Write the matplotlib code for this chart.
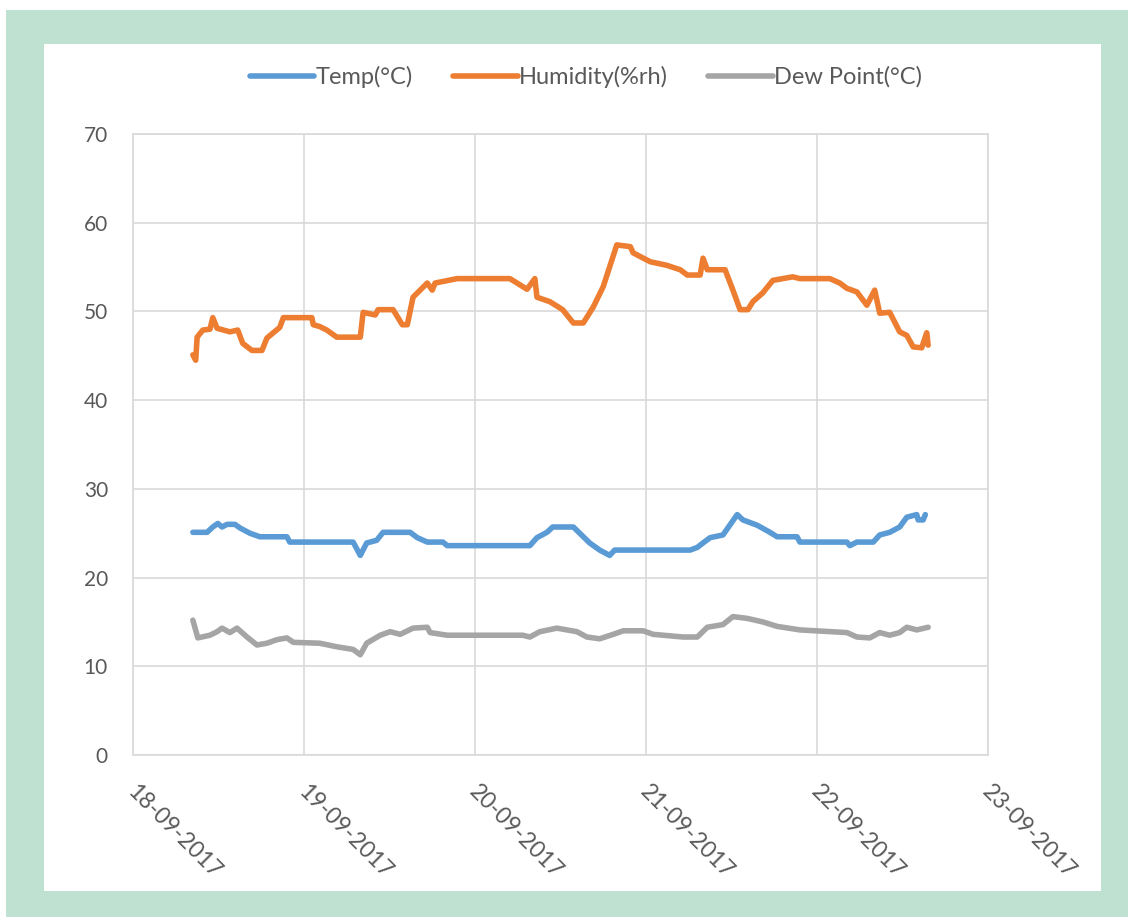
import matplotlib
matplotlib.use("Agg")
import matplotlib.pyplot as plt
import matplotlib.dates as mdates
import matplotlib.transforms as mtransforms
from matplotlib.patches import Rectangle
import datetime as dt

plt.rcParams['font.family'] = ['Lato', 'DejaVu Sans']

# ---- data (hours since 18-09-2017 00:00, value) ----
hum_hours = [8.4, 8.8, 9.0, 9.8, 10.8, 11.2, 11.8, 13.6, 14.7, 15.4, 16.7, 18.1, 18.8, 20.6, 21.1,
             25.1, 25.3, 26.2, 27.2, 28.6, 31.9, 32.3, 34.0, 34.4, 36.5, 37.8, 38.5, 39.3, 40.3,
             41.3, 42.0, 42.4, 45.5, 52.9, 53.9, 55.3, 56.4, 56.7, 58.5, 60.3, 61.8, 63.2, 64.6,
             66.0, 67.9, 69.8, 70.2, 72.6, 74.9, 76.8, 77.8, 79.6, 80.0, 80.6, 83.1, 84.2, 85.2,
             86.3, 87.0, 88.4, 89.8, 92.6, 93.6, 97.8, 99.2, 100.2, 101.6, 103.0, 104.1, 104.8,
             106.2, 107.6, 108.6, 109.5, 110.7, 111.4, 111.6]
hum_vals = [45.1, 44.5, 47.1, 47.9, 48.0, 49.3, 48.1, 47.7, 47.9, 46.4, 45.6, 45.6, 47.0, 48.2, 49.3,
            49.3, 48.5, 48.3, 47.9, 47.1, 47.1, 49.9, 49.6, 50.2, 50.2, 48.5, 48.5, 51.6, 52.4,
            53.2, 52.4, 53.2, 53.7, 53.7, 53.2, 52.5, 53.7, 51.6, 51.1, 50.2, 48.7, 48.7, 50.5,
            52.8, 57.5, 57.3, 56.6, 55.6, 55.2, 54.7, 54.1, 54.1, 56.0, 54.7, 54.7, 52.4, 50.2,
            50.2, 51.1, 52.1, 53.5, 53.9, 53.7, 53.7, 53.2, 52.6, 52.2, 50.7, 52.4, 49.8,
            49.9, 47.7, 47.3, 46.0, 45.9, 47.6, 46.2]

temp_hours = [8.4, 10.4, 11.2, 11.9, 12.5, 13.2, 14.3, 15.0, 16.4, 17.8, 21.6, 22.0, 30.9, 31.9,
              32.8, 34.2, 35.1, 38.9, 39.9, 41.3, 43.5, 44.1, 55.7, 56.7, 58.1, 58.9, 61.8, 62.7,
              64.1, 65.5, 66.9, 67.6, 78.2, 79.2, 80.0, 81.0, 82.8, 84.8, 85.6, 87.6, 89.4, 90.4,
              93.2, 93.6, 100.2, 100.6, 101.6, 103.9, 104.8, 106.2, 107.6, 108.6, 110.0, 110.2,
              110.9, 111.2]
temp_vals = [25.1, 25.1, 25.7, 26.1, 25.7, 26.0, 26.0, 25.6, 25.0, 24.6, 24.6, 24.0, 24.0, 22.5,
             23.9, 24.2, 25.1, 25.1, 24.5, 24.0, 24.0, 23.6, 23.6, 24.5, 25.1, 25.7, 25.7, 25.0,
             23.9, 23.1, 22.5, 23.1, 23.1, 23.4, 23.9, 24.5, 24.8, 27.1, 26.5, 25.9, 25.1, 24.6,
             24.6, 24.0, 24.0, 23.6, 24.0, 24.0, 24.8, 25.1, 25.7, 26.8, 27.1, 26.5,
             26.5, 27.1]

dew_hours = [8.4, 9.1, 10.8, 11.8, 12.5, 13.6, 14.6, 16.0, 17.4, 18.8, 20.2, 21.6, 22.5, 26.2,
             28.6, 30.9, 31.9, 32.8, 34.7, 36.1, 37.5, 39.3, 41.3, 41.7, 44.1, 54.7, 55.7, 57.1,
             59.5, 62.3, 63.7, 65.5, 67.4, 68.8, 71.6, 73.0, 77.2, 79.2, 80.6, 82.8, 84.2, 86.2,
             88.4, 90.4, 93.6, 100.2, 101.6, 103.4, 104.8, 106.2, 107.6, 108.6, 110.0, 111.6]
dew_vals = [15.2, 13.2, 13.5, 13.9, 14.3, 13.8, 14.3, 13.3, 12.4, 12.6, 13.0, 13.2, 12.7, 12.6,
            12.2, 11.9, 11.3, 12.6, 13.5, 13.9, 13.6, 14.3, 14.4, 13.8, 13.5, 13.5, 13.3, 13.9,
            14.3, 13.9, 13.3, 13.1, 13.6, 14.0, 14.0, 13.6, 13.3, 13.3, 14.4, 14.7, 15.6, 15.4,
            15.0, 14.5, 14.1, 13.8, 13.3, 13.2, 13.8, 13.5, 13.8, 14.4, 14.1, 14.4]

series_names = ['Temp(°C)', 'Humidity(%rh)', 'Dew Point(°C)']
series_colors = ['#5b9bd5', '#ed7d31', '#a5a5a5']
start_date = dt.datetime(2017, 9, 18)
end_date = dt.datetime(2017, 9, 23)
y_ticks = [0, 10, 20, 30, 40, 50, 60, 70]


def to_dates(hours):
    return [start_date + dt.timedelta(hours=h) for h in hours]


fig = plt.figure(figsize=(11.28, 9.17), dpi=100, facecolor='white')
W, H = 1128, 917

bg = fig.add_axes([0, 0, 1, 1], zorder=-5)
bg.set_xlim(0, W)
bg.set_ylim(H, 0)
bg.axis('off')
bg.add_patch(Rectangle((6, 10), W - 6, H - 10, facecolor='#bfe1d2', edgecolor='none'))
bg.add_patch(Rectangle((44, 44), 1101 - 44, 891 - 44, facecolor='white', edgecolor='none'))

ax = fig.add_axes([133 / W, 1 - 755 / H, (988 - 133) / W, (755 - 134) / H], zorder=2)
ax.set_facecolor('none')

lines = []
for hrs, vals, name, col in [(temp_hours, temp_vals, series_names[0], series_colors[0]),
                             (hum_hours, hum_vals, series_names[1], series_colors[1]),
                             (dew_hours, dew_vals, series_names[2], series_colors[2])]:
    l, = ax.plot(to_dates(hrs), vals, color=col, lw=4.0, solid_joinstyle='round',
                 solid_capstyle='round', label=name)
    lines.append(l)

ax.set_xlim(start_date, end_date)
ax.set_ylim(0, 70)
ax.set_yticks(y_ticks)
ax.xaxis.set_major_locator(mdates.DayLocator())
ax.xaxis.set_major_formatter(mdates.DateFormatter('%d-%m-%Y'))
ax.grid(True, color='#d9d9d9', lw=1.2)
ax.set_axisbelow(True)
for s in ax.spines.values():
    s.set_color('#d9d9d9')
    s.set_linewidth(1.2)
ax.tick_params(axis='both', length=0, labelcolor='#595959')
ax.tick_params(axis='y', pad=18, labelsize=15)
ax.tick_params(axis='x', pad=19, labelsize=16.5)
offset = mtransforms.ScaledTranslation(5 / 100, 0, fig.dpi_scale_trans)
for lab in ax.get_xticklabels():
    lab.set_rotation(-45)
    lab.set_ha('left')
    lab.set_va('top')
    lab.set_rotation_mode('anchor')
    lab.set_transform(lab.get_transform() + offset)

leg = fig.legend(handles=lines, loc='center', bbox_to_anchor=(586 / W, 1 - 77 / H), ncol=3,
                 frameon=False, fontsize=17, labelcolor='#595959', handlelength=2.75,
                 handletextpad=0.05, columnspacing=1.7)

fig.savefig('out.png', dpi=100, facecolor='white')
